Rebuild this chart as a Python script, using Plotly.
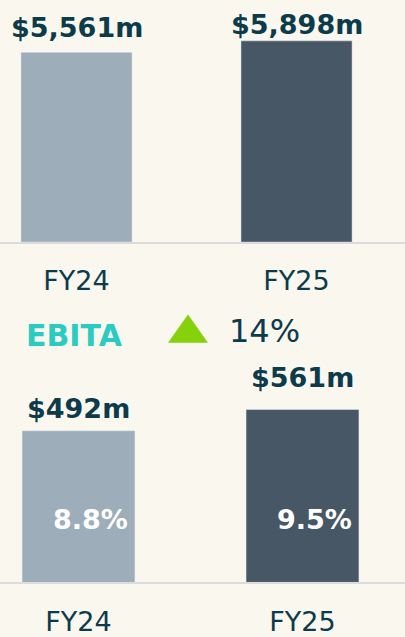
import plotly.graph_objects as go

# data
years = ['FY24', 'FY25']
revenue = [5561, 5898]
ebita = [492, 561]
revenue_labels = ['$5,561m', '$5,898m']
ebita_labels = ['$492m', '$561m']
margin_labels = ['8.8%', '9.5%']
ebita_growth = '14%'

W, H = 405, 637
BG = '#faf7ef'
DARK = '#0c3b4b'
BAR_COLORS = ['#9dadb9', '#475766']
FONT = 'Verdana, DejaVu Sans, sans-serif'


def py(p):
    # pixel row -> paper y
    return 1 - p / H


def px(p):
    return p / W


fig = go.Figure()
fig.add_trace(go.Bar(x=years, y=revenue, marker_color=BAR_COLORS, width=0.505,
                     xaxis='x', yaxis='y', hoverinfo='skip'))
fig.add_trace(go.Bar(x=years, y=ebita, marker_color=BAR_COLORS, width=0.504,
                     xaxis='x2', yaxis='y2', hoverinfo='skip'))

annotations = []
top_shift = [25, 16]
bot_shift = [22, 32]
for i, yr in enumerate(years):
    annotations.append(dict(x=yr, y=revenue[i], xref='x', yref='y', text='<b>%s</b>' % revenue_labels[i],
                            showarrow=False, yanchor='middle', yshift=top_shift[i],
                            font=dict(size=27, color=DARK, family=FONT)))
    annotations.append(dict(x=yr, y=ebita[i], xref='x2', yref='y2', text='<b>%s</b>' % ebita_labels[i],
                            showarrow=False, yanchor='middle', yshift=bot_shift[i],
                            font=dict(size=27, color=DARK, family=FONT)))
    annotations.append(dict(x=yr, y=0, xref='x2', yref='y2', text='<b>%s</b>' % margin_labels[i],
                            showarrow=False, yanchor='middle', yshift=63, xshift=12,
                            font=dict(size=27, color='white', family=FONT)))

annotations.append(dict(x=px(74.5), y=py(338), xref='paper', yref='paper', text='<b>EBITA</b>',
                        showarrow=False, xanchor='center', yanchor='middle',
                        font=dict(size=30, color='#2bcbc1', family=FONT)))
annotations.append(dict(x=px(264), y=py(333.5), xref='paper', yref='paper', text=ebita_growth,
                        showarrow=False, xanchor='center', yanchor='middle',
                        font=dict(size=32, color=DARK, family=FONT)))

# green up arrow
shapes = [dict(type='path', xref='paper', yref='paper',
               path='M %f %f L %f %f L %f %f Z' % (px(168), py(345.5), px(208), py(345.5), px(188), py(317)),
               fillcolor='#84d10c', line=dict(width=0))]

axis_common = dict(showgrid=False, zeroline=False, showline=True, linecolor='#dcdcdc', linewidth=2,
                   ticks='', tickfont=dict(size=27, color=DARK, family=FONT), fixedrange=True)
yaxis_common = dict(showgrid=False, zeroline=False, showline=False, showticklabels=False, fixedrange=True)

fig.update_layout(
    width=W, height=H,
    margin=dict(l=0, r=0, t=0, b=0),
    paper_bgcolor=BG, plot_bgcolor=BG,
    showlegend=False,
    xaxis=dict(domain=[0, 1], range=[-0.3478, 1.493], anchor='y', ticklabelstandoff=14, **axis_common),
    yaxis=dict(domain=[py(244), 1], range=[0, 244 * 29.08], **yaxis_common),
    xaxis2=dict(domain=[0, 1], range=[-0.3504, 1.4576], anchor='y2', ticklabelstandoff=14, **axis_common),
    yaxis2=dict(domain=[py(587), py(300)], range=[0, 287 * 3.22], **yaxis_common),
    annotations=annotations,
    shapes=shapes,
)

fig.write_html('out.html', config={'displayModeBar': False},
               post_script="document.body.style.margin='0';document.body.style.overflow='hidden';")
